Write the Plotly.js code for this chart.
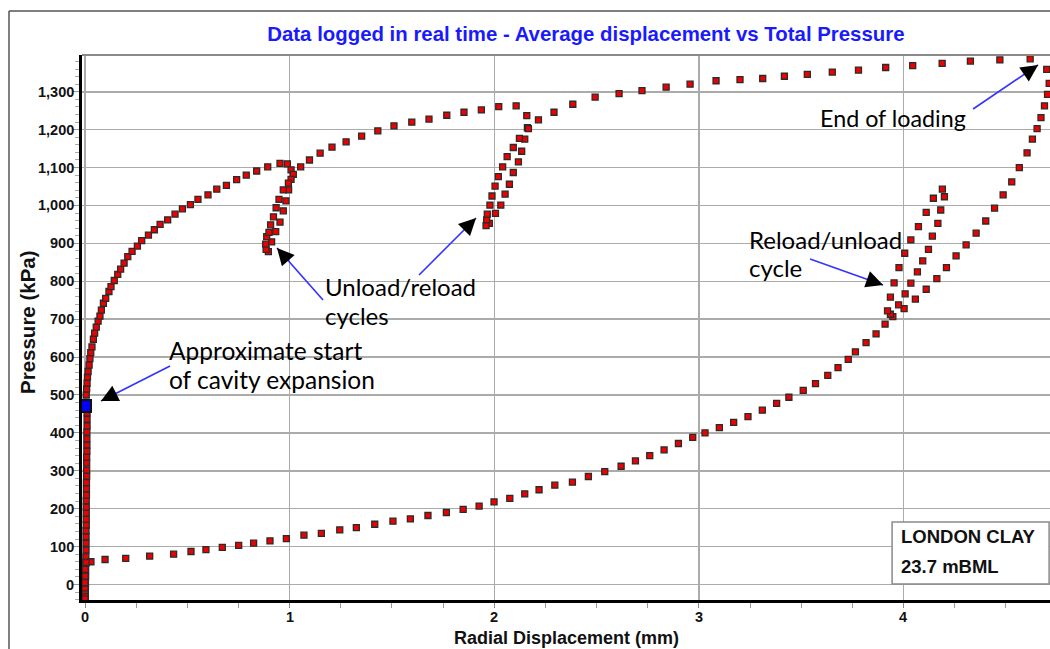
<!DOCTYPE html>
<html>
<head>
<meta charset="utf-8">
<script src="https://cdn.plot.ly/plotly-3.0.1.min.js"></script>
<style>html,body{margin:0;padding:0;background:#fff;}#chart{width:1050px;height:649px;}</style>
</head>
<body>
<div id="chart"></div>
<script>
// ---- Data (Radial displacement mm, Pressure kPa) ----
// Initial seating / lift-off along the cavity wall (x ~ 0)
const seatX = [0.000,0.000,0.001,0.000,0.001,0.002,0.002,0.003,0.003,0.004,0.004,0.005,0.005,0.005,0.005,0.006,0.006,0.006,0.006,0.006,0.007,0.007,0.007,0.008,0.008,0.008,0.008,0.009,0.009,0.009,0.009,0.010,0.010,0.010];
const seatY = [-35,-30,-25,-20,-14,-8,3,21,38,56,73,91,109,126,142,157,172,188,204,221,236,253,269,286,302,320,336,352,368,384,402,418,436,453];
// Approximate start of cavity expansion
const startX = [0.000];
const startY = [471];
// First loading curve up to first unload
const load1X = [0.006,0.008,0.010,0.012,0.015,0.020,0.024,0.028,0.034,0.041,0.047,0.055,0.064,0.073,0.080,0.090,0.101,0.117,0.127,0.143,0.160,0.174,0.191,0.209,0.230,0.256,0.277,0.310,0.339,0.367,0.404,0.440,0.476,0.515,0.552,0.601,0.644,0.691,0.741,0.788,0.839,0.893,0.953,0.989];
const load1Y = [500,516,531,547,562,579,596,612,627,647,663,679,695,708,724,742,755,773,786,802,818,832,848,865,879,893,907,922,936,950,962,977,991,1002,1016,1028,1043,1053,1068,1080,1091,1102,1111,1110];
// First unload/reload cycle
const cyc1X = [1.007,1.018,1.007,0.995,0.982,0.969,0.953,0.932,0.912,0.896,0.885,0.883,0.888,0.899,0.907,0.921,0.934,0.948,0.969,0.994];
const cyc1Y = [1094,1082,1069,1041,1012,986,956,931,904,878,884,898,918,929,949,970,994,1016,1041,1059];
// Second loading stage
const load2X = [1.054,1.097,1.149,1.207,1.276,1.352,1.431,1.510,1.597,1.681,1.768,1.852,1.937,2.022,2.107];
const load2Y = [1102,1120,1138,1154,1168,1183,1197,1210,1220,1228,1238,1246,1252,1261,1263];
// Second unload/reload cycle
const cyc2X = [2.159,2.162,2.149,2.134,2.118,2.093,2.074,2.053,2.032,2.006,1.976,1.960,1.963,1.966,1.979,1.989,2.004,2.020,2.041,2.063,2.093,2.123,2.167];
const cyc2Y = [1237,1205,1175,1143,1115,1087,1056,1030,1001,979,953,947,962,977,1001,1025,1051,1076,1102,1129,1153,1177,1203];
// Final loading stage to end of loading
const load3X = [2.216,2.292,2.384,2.493,2.610,2.722,2.840,2.957,3.084,3.201,3.312,3.418,3.530,3.652,3.780,3.913,4.045,4.189,4.327,4.471,4.619];
const load3Y = [1226,1246,1267,1286,1295,1303,1312,1320,1329,1332,1335,1341,1346,1352,1357,1364,1369,1375,1381,1384,1387];
// Unloading from end of loading
const unload1X = [4.700,4.712,4.704,4.689,4.672,4.653,4.630,4.604,4.566,4.529,4.487,4.445,4.402,4.355,4.306,4.257,4.210,4.163,4.111,4.058,4.003,3.948];
const unload1Y = [1359,1322,1293,1263,1232,1203,1175,1139,1100,1062,1028,993,959,927,896,867,836,807,779,753,728,707];
// Reload/unload cycle
const cyc3X = [3.936,3.954,3.978,4.006,4.036,4.073,4.111,4.146,4.190,4.200,4.182,4.168,4.141,4.122,4.094,4.068,4.036,4.008,3.976,3.936,3.922];
const cyc3Y = [758,796,836,874,909,944,982,1019,1043,1023,988,953,919,884,854,825,795,767,738,713,722];
// Final unloading to zero
const unload2X = [3.910,3.866,3.817,3.765,3.730,3.680,3.630,3.570,3.510,3.440,3.380,3.310,3.240,3.170,3.100,3.030,2.970,2.900,2.830,2.760,2.690,2.620,2.540,2.460,2.382,2.296,2.219,2.149,2.076,1.999,1.926,1.848,1.766,1.676,1.590,1.505,1.416,1.326,1.245,1.155,1.070,0.984,0.904,0.824,0.751,0.671,0.591,0.518,0.433,0.316,0.199,0.098,0.029,0.005,0.001,0.001,0.000,0.000,0.000,0.000,0.000];
const unload2Y = [687,661,638,614,594,572,552,530,512,494,478,460,443,428,414,400,388,372,355,340,326,312,298,285,270,262,250,239,227,218,207,198,190,182,173,167,159,150,144,135,130,121,115,109,103,98,92,87,80,75,69,66,60,58,40,22,5,-12,-25,-32,-38];

// Tick labels
const xTickVals = [0,1,2,3,4];
const xTickText = ['0','1','2','3','4'];
const yTickVals = [0,100,200,300,400,500,600,700,800,900,1000,1100,1200,1300];
const yTickText = ['0','100','200','300','400','500','600','700','800','900','1,000','1,100','1,200','1,300'];

// ---- Build ----
const allX = [].concat(seatX, load1X, cyc1X, load2X, cyc2X, load3X, unload1X, cyc3X, unload2X);
const allY = [].concat(seatY, load1Y, cyc1Y, load2Y, cyc2Y, load3Y, unload1Y, cyc3Y, unload2Y);

const traces = [
  {x: allX, y: allY, type:'scatter', mode:'markers', hoverinfo:'x+y',
   marker:{symbol:'square', size:6, color:'#ee0000', line:{color:'#2b2b2b', width:1.3}}},
  {x: startX, y: startY, type:'scatter', mode:'markers',
   marker:{symbol:'square', size:12, color:'#0000ff', line:{color:'#111', width:2}}}
];

const PX = 204.6, PY = 0.379; // px per unit (used to place annotation layout items)
function px2x(p){return (p-85)/PX;}
function py2y(p){return (584.5-p)/PY;}
const plotL = 82, plotW = 968, plotB = 600, plotH = 545;
function px2p(p){return (p-plotL)/plotW;}
function py2p(p){return (plotB-p)/plotH;}

const arrows = [
  {tail:[170,366], tip:[101,401]},
  {tail:[323,300], tip:[277,248]},
  {tail:[419,275], tip:[476,218]},
  {tail:[810,259], tip:[883,285]},
  {tail:[973,109], tip:[1038,65]}
];
const shapes = [
  {type:'line', xref:'paper', yref:'paper', x0:0, x1:1.01, y0:1, y1:1, line:{color:'#8a8a8a', width:2}},
  {type:'line', xref:'paper', yref:'paper', x0:px2p(9), x1:px2p(9), y0:py2p(11), y1:-0.2, line:{color:'#555', width:1.5}},
  {type:'line', xref:'paper', yref:'paper', x0:px2p(9), x1:1.05, y0:py2p(11), y1:py2p(11), line:{color:'#555', width:1.5}},
  {type:'rect', xref:'x', yref:'y', x0:px2x(892), x1:px2x(1049), y0:py2y(584), y1:py2y(522),
   fillcolor:'#ffffff', line:{color:'#8a8a8a', width:1.5}, layer:'above'}
];
const annotations = [];
arrows.forEach(a=>{
  shapes.push({type:'line', xref:'x', yref:'y', x0:px2x(a.tail[0]), y0:py2y(a.tail[1]), x1:px2x(a.tip[0]), y1:py2y(a.tip[1]),
    line:{color:'#3333ff', width:1.6}, layer:'above'});
  const dx=a.tail[0]-a.tip[0], dy=a.tail[1]-a.tip[1], L=Math.hypot(dx,dy), k=14/L;
  annotations.push({x:px2x(a.tip[0]), y:py2y(a.tip[1]), xref:'x', yref:'y', text:'', showarrow:true,
    ax:dx*k, ay:dy*k, arrowhead:2, arrowsize:1.7, arrowwidth:2, arrowcolor:'#000'});
});
const noteFont = {family:'Lato, "Open Sans", sans-serif', size:24, color:'#000'};
const notes = [
  ['Approximate start', 167, 351, 24.5], ['of cavity expansion', 167, 380, 24.5],
  ['Unload/reload', 323, 287, 24], ['cycles', 323, 316, 24],
  ['Reload/unload', 747, 240, 24], ['cycle', 747, 268, 24],
  ['End of loading', 818, 118, 23.3]
];
notes.forEach(n=>annotations.push({x:px2x(n[1]), y:py2y(n[2]), xref:'x', yref:'y', text:n[0], showarrow:false,
  xanchor:'left', yanchor:'middle', font:Object.assign({}, noteFont, {size:n[3]})}));
const boxFont = {family:'Liberation Sans, Arial, sans-serif', size:18.5, color:'#111'};
annotations.push(
  {x:px2x(899), y:py2y(537), xref:'x', yref:'y', text:'<b>LONDON CLAY</b>', showarrow:false, xanchor:'left', yanchor:'middle', font:boxFont},
  {x:px2x(899), y:py2y(566), xref:'x', yref:'y', text:'<b>23.7 mBML</b>', showarrow:false, xanchor:'left', yanchor:'middle', font:boxFont}
);
// axis titles
const axFont = {family:'Liberation Sans, Arial, sans-serif', size:18, color:'#111'};
annotations.push(
  {xref:'paper', yref:'paper', x:px2p(566), y:py2p(638), text:'<b>Radial Displacement (mm)</b>', showarrow:false, xanchor:'center', yanchor:'middle', font:axFont},
  {xref:'paper', yref:'paper', x:px2p(27), y:py2p(322), text:'<b>Pressure (kPa)</b>', textangle:-90, showarrow:false, xanchor:'center', yanchor:'middle',
   font:{family:'Liberation Sans, Arial, sans-serif', size:20.5, color:'#111'}}
);
// tick labels placed on the axes' own scales
const tickFont = {family:'Liberation Sans, Arial, sans-serif', size:14.5, color:'#111'};
yTickVals.forEach((v,i)=>annotations.push({xref:'paper', yref:'y', x:px2p(75), y:v, text:'<b>'+yTickText[i]+'</b>',
  showarrow:false, xanchor:'right', yanchor:'middle', font:tickFont, borderpad:0}));
xTickVals.forEach((v,i)=>annotations.push({xref:'x', yref:'paper', x:v, y:py2p(617), text:'<b>'+xTickText[i]+'</b>',
  showarrow:false, xanchor:'center', yanchor:'middle', font:tickFont, borderpad:0}));

const layout = {
  width:1050, height:649,
  font:{family:'Liberation Sans, Arial, sans-serif', size:14, color:'#111'},
  margin:{l:82, r:0, t:55, b:49},
  paper_bgcolor:'#fff', plot_bgcolor:'#fff',
  showlegend:false,
  title:{text:'<b>Data logged in real time - Average displacement vs Total Pressure</b>', x:0.558, xanchor:'center', y:1-34/649, yanchor:'middle',
    font:{family:'Liberation Sans, Arial, sans-serif', size:20.4, color:'#1a1aff'}},
  xaxis:{range:[-0.0147, 4.716], tickmode:'array', tickvals:xTickVals, showticklabels:false, showgrid:true, gridcolor:'#ababab', gridwidth:1.5,
    zeroline:false, showline:true, linecolor:'#000', linewidth:2.5, ticks:'outside', ticklen:5, tickcolor:'#888', tickwidth:1,
    minor:{dtick:0.25, ticks:'outside', ticklen:5, tickcolor:'#999', showgrid:false}, automargin:false},
  yaxis:{range:[-40.9, 1397], tickmode:'array', tickvals:yTickVals, showticklabels:false, showgrid:true, gridcolor:'#ababab', gridwidth:1.5,
    zeroline:false, showline:true, linecolor:'#000', linewidth:3, ticks:'outside', ticklen:6, tickcolor:'#999', tickwidth:1,
    minor:{dtick:20, ticks:'outside', ticklen:4, tickcolor:'#aaa', showgrid:false}, automargin:false},
  shapes:shapes,
  annotations:annotations
};
Plotly.newPlot('chart', traces, layout, {staticPlot:true, displayModeBar:false});
</script>
</body>
</html>
